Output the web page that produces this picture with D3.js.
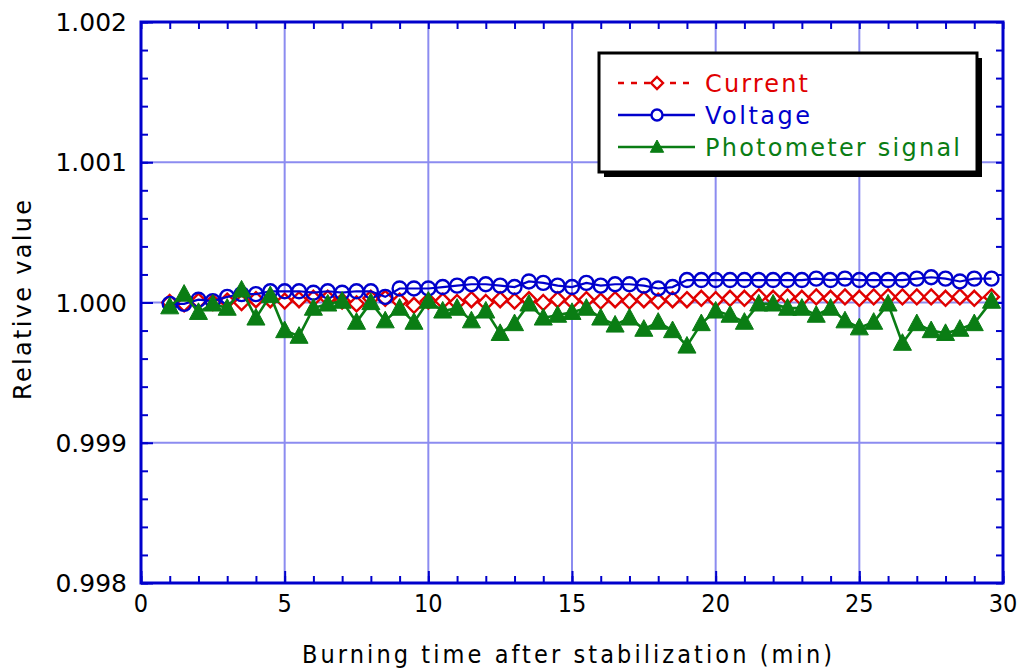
<!DOCTYPE html>
<html><head><meta charset="utf-8">
<script src="https://cdn.jsdelivr.net/npm/d3@7"></script>
<style>
body{margin:0;background:#fff;}
svg{display:block;}
</style></head>
<body><svg id="c" width="1030" height="671"></svg>
<script>
const times = [1,1.5,2,2.5,3,3.5,4,4.5,5,5.5,6,6.5,7,7.5,8,8.5,9,9.5,10,10.5,11,11.5,12,12.5,13,13.5,14,14.5,15,15.5,16,16.5,17,17.5,18,18.5,19,19.5,20,20.5,21,21.5,22,22.5,23,23.5,24,24.5,25,25.5,26,26.5,27,27.5,28,28.5,29,29.6];
const current = [1.00000,0.99999,1.00001,1.00000,1.00001,1.00000,1.00002,1.00002,1.00001,1.00002,1.00003,1.00003,1.00001,0.99999,1.00003,1.00003,1.00001,0.99998,1.00001,1.00001,1.00000,1.00002,1.00000,1.00002,1.00001,1.00002,1.00000,1.00002,1.00001,1.00002,1.00001,1.00002,1.00001,1.00002,1.00001,1.00002,1.00002,1.00003,1.00002,1.00003,1.00003,1.00004,1.00003,1.00004,1.00003,1.00004,1.00003,1.00004,1.00003,1.00004,1.00004,1.00004,1.00004,1.00004,1.00003,1.00004,1.00003,1.00004];
const voltage = [0.99999,0.99999,1.00002,1.00001,1.00004,1.00006,1.00006,1.00008,1.00008,1.00008,1.00007,1.00008,1.00007,1.00008,1.00008,1.00004,1.00010,1.00010,1.00010,1.00011,1.00012,1.00013,1.00013,1.00012,1.00011,1.00015,1.00014,1.00012,1.00011,1.00014,1.00012,1.00013,1.00013,1.00012,1.00010,1.00011,1.00016,1.00016,1.00016,1.00016,1.00016,1.00016,1.00016,1.00016,1.00016,1.00017,1.00016,1.00017,1.00016,1.00016,1.00016,1.00016,1.00017,1.00018,1.00017,1.00015,1.00017,1.00017];
const photometer = [0.99997,1.00006,0.99993,0.99999,0.99996,1.00009,0.99989,1.00005,0.99980,0.99976,0.99996,0.99999,1.00001,0.99986,1.00000,0.99987,0.99996,0.99986,1.00001,0.99994,0.99996,0.99987,0.99994,0.99978,0.99985,0.99999,0.99989,0.99991,0.99993,0.99996,0.99989,0.99984,0.99989,0.99981,0.99986,0.99980,0.99969,0.99985,0.99994,0.99991,0.99986,0.99999,0.99999,0.99996,0.99996,0.99991,0.99996,0.99987,0.99982,0.99986,0.99999,0.99971,0.99985,0.99980,0.99978,0.99981,0.99985,1.00001];
const xTicks = [0,5,10,15,20,25,30];
const yTicks = [0.998,0.999,1.000,1.001,1.002];
const seriesNames = ["Current","Voltage","Photometer signal"];

const RED="#e00000", BLUE="#0000cc", GREEN="#0a7d14", GRID="#8c8cf0";
const svg=d3.select("#c");
const L=141,T=22,R=1003,B=583;
const x=d3.scaleLinear().domain([0,30]).range([L,R]);
const y=d3.scaleLinear().domain([0.998,1.002]).range([B,T]);

// grid
const g=svg.append("g");
g.selectAll("line.vx").data(xTicks.slice(1,-1)).enter().append("line")
 .attr("x1",d=>x(d)).attr("x2",d=>x(d)).attr("y1",T).attr("y2",B)
 .attr("stroke",GRID).attr("stroke-width",2);
g.selectAll("line.hy").data(yTicks.slice(1,-1)).enter().append("line")
 .attr("y1",d=>y(d)).attr("y2",d=>y(d)).attr("x1",L).attr("x2",R)
 .attr("stroke",GRID).attr("stroke-width",2);

// axes with inward ticks
const xMinor=d3.range(0,31,1), yMinor=d3.range(0,21).map(i=>0.998+i*0.0002);
function styleAxis(sel){sel.select(".domain").remove();sel.selectAll("line").attr("stroke",BLUE).attr("stroke-width",2);}
svg.append("g").attr("transform",`translate(0,${B})`).call(d3.axisBottom(x).tickValues(xMinor).tickSize(-7).tickFormat("")).call(styleAxis);
svg.append("g").attr("transform",`translate(0,${T})`).call(d3.axisTop(x).tickValues(xMinor).tickSize(-7).tickFormat("")).call(styleAxis);
svg.append("g").attr("transform",`translate(${L},0)`).call(d3.axisLeft(y).tickValues(yMinor).tickSize(-7).tickFormat("")).call(styleAxis);
svg.append("g").attr("transform",`translate(${R},0)`).call(d3.axisRight(y).tickValues(yMinor).tickSize(-7).tickFormat("")).call(styleAxis);
svg.append("g").attr("transform",`translate(0,${B})`).call(d3.axisBottom(x).tickValues(xTicks).tickSize(-12).tickFormat("")).call(styleAxis);
svg.append("g").attr("transform",`translate(${L},0)`).call(d3.axisLeft(y).tickValues(yTicks).tickSize(-12).tickFormat("")).call(styleAxis);

svg.append("rect").attr("x",L).attr("y",T).attr("width",R-L).attr("height",B-T)
 .attr("fill","none").attr("stroke",BLUE).attr("stroke-width",3);

// tick labels
svg.selectAll("text.xl").data(xTicks).enter().append("text")
 .attr("x",d=>x(d)).attr("y",B+29).attr("text-anchor","middle")
 .style("font-family","'DejaVu Sans Condensed','DejaVu Sans'").style("font-stretch","condensed")
 .style("font-size","25px").attr("fill","#000").text(d=>d);
svg.selectAll("text.yl").data(yTicks).enter().append("text")
 .attr("x",L-14).attr("y",d=>y(d)+9).attr("text-anchor","end")
 .style("font-family","'DejaVu Sans'").style("font-size","25px").attr("fill","#000").text(d=>d3.format(".3f")(d));

svg.append("text").attr("x",(L+R)/2-5).attr("y",663).attr("text-anchor","middle")
 .style("font-family","'DejaVu Sans Condensed','DejaVu Sans'").style("font-stretch","condensed")
 .style("font-size","25px").attr("textLength",530).attr("lengthAdjust","spacing")
 .text("Burning time after stabilization (min)");
svg.append("text").attr("transform","translate(31,300) rotate(-90)").attr("text-anchor","middle")
 .style("font-family","'DejaVu Sans'").style("font-size","24px").attr("textLength",200).attr("lengthAdjust","spacing")
 .text("Relative value");

// series
const line=d3.line().x((d,i)=>x(times[i])).y(d=>y(d));
const diamond=(s)=>`M0,${-s}L${s},0L0,${s}L${-s},0Z`;
const tri=(s)=>`M0,${-s}L${s*0.95},${s*0.75}L${-s*0.95},${s*0.75}Z`;

svg.append("path").datum(current).attr("d",line).attr("fill","none").attr("stroke",RED).attr("stroke-width",2).attr("stroke-dasharray","5,5");
svg.selectAll("path.cm").data(current).enter().append("path")
 .attr("transform",(d,i)=>`translate(${x(times[i])},${y(d)})`).attr("d",diamond(7.5))
 .attr("fill","#fff").attr("stroke",RED).attr("stroke-width",2.4);

svg.append("path").datum(voltage).attr("d",line).attr("fill","none").attr("stroke",BLUE).attr("stroke-width",2.2);
svg.selectAll("circle.vm").data(voltage).enter().append("circle")
 .attr("cx",(d,i)=>x(times[i])).attr("cy",d=>y(d)).attr("r",7)
 .attr("fill","none").attr("stroke",BLUE).attr("stroke-width",2.4);

svg.append("path").datum(photometer).attr("d",line).attr("fill","none").attr("stroke",GREEN).attr("stroke-width",2.6);
svg.selectAll("path.pm").data(photometer).enter().append("path")
 .attr("transform",(d,i)=>`translate(${x(times[i])},${y(d)})`).attr("d",tri(9.5))
 .attr("fill",GREEN).attr("stroke",GREEN).attr("stroke-width",1);

// legend
const lg=svg.append("g");
lg.append("rect").attr("x",604).attr("y",58).attr("width",378).attr("height",119).attr("fill","#000");
lg.append("rect").attr("x",599).attr("y",53).attr("width",378).attr("height",119).attr("fill","#fff").attr("stroke","#000").attr("stroke-width",3);
const lcol=[RED,BLUE,GREEN], ly=[83,115,147], lw=[103,105,255];
seriesNames.forEach((n,i)=>{
  const l=lg.append("line").attr("x1",618).attr("x2",695).attr("y1",ly[i]).attr("y2",ly[i]).attr("stroke",lcol[i]).attr("stroke-width",2.4);
  if(i===0){l.attr("stroke-dasharray","6,7");
    lg.append("path").attr("transform",`translate(657,${ly[i]})`).attr("d",diamond(6)).attr("fill","#fff").attr("stroke",RED).attr("stroke-width",2.4);}
  if(i===1) lg.append("circle").attr("cx",657).attr("cy",ly[i]).attr("r",5.5).attr("fill","#fff").attr("stroke",BLUE).attr("stroke-width",2.4);
  if(i===2) lg.append("path").attr("transform",`translate(657,${ly[i]})`).attr("d",tri(7)).attr("fill",GREEN).attr("stroke",GREEN);
  lg.append("text").attr("x",705).attr("y",ly[i]+9).style("font-family","'DejaVu Sans'").style("font-size","24px")
    .attr("textLength",lw[i]).attr("lengthAdjust","spacing").attr("fill",lcol[i]).text(n);
});
</script></body></html>
